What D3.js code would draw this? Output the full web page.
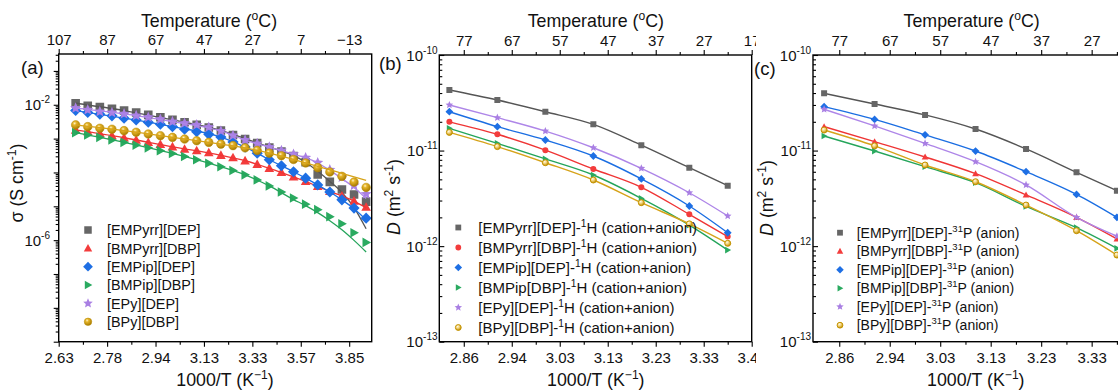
<!DOCTYPE html>
<html><head><meta charset="utf-8">
<script src="https://cdn.jsdelivr.net/npm/d3@7"></script>
<style>body{margin:0;background:#fff;} svg{display:block;font-family:"Liberation Sans",Arial,sans-serif;}</style>
</head><body>
<script>
// ---------------- Panel (a): ionic conductivity ----------------
const tempA = [100,95,90,85,80,75,70,65,60,55,50,45,40,35,30,25,20,15,10,5,0,-5,-10,-15,-20];
const sigma_EMPyrr_DEP = [1.11e-2,9.34e-3,8.54e-3,7.60e-3,6.76e-3,5.90e-3,5.04e-3,4.30e-3,3.57e-3,3.05e-3,2.54e-3,2.14e-3,1.74e-3,1.28e-3,9.7e-4,7.38e-4,5.42e-4,4.12e-4,3.03e-4,2.01e-4,8.8e-5,5.27e-5,3.15e-5,2.23e-5,1.38e-5];
const sigma_BMPyrr_DBP = [1.80e-3,1.60e-3,1.44e-3,1.22e-3,1.06e-3,9.08e-4,7.75e-4,6.75e-4,5.73e-4,4.90e-4,4.41e-4,3.84e-4,3.22e-4,2.73e-4,2.22e-4,1.75e-4,1.33e-4,1.01e-4,7.41e-5,5.45e-5,3.86e-5,2.75e-5,2.02e-5,1.43e-5,9.48e-6];
const sigma_EMPip_DEP = [6.76e-3,5.90e-3,5.28e-3,4.70e-3,4.02e-3,3.57e-3,3.05e-3,2.66e-3,2.26e-3,1.89e-3,1.60e-3,1.34e-3,1.11e-3,7.91e-4,5.61e-4,3.72e-4,2.38e-4,1.58e-4,1.05e-4,6.79e-5,4.29e-5,2.65e-5,1.55e-5,8.85e-6,4.46e-6];
const sigma_BMPip_DBP = [1.50e-3,1.28e-3,1.09e-3,9.08e-4,7.75e-4,6.44e-4,5.35e-4,4.41e-4,3.64e-4,2.96e-4,2.38e-4,1.87e-4,1.47e-4,1.14e-4,8.51e-5,6.04e-5,4.00e-5,2.65e-5,1.76e-5,1.16e-5,7.98e-6,4.94e-6,3.05e-6,1.65e-6,8.59e-7];
const sigma_EPy_DEP = [7.97e-3,7.10e-3,6.32e-3,5.90e-3,5.40e-3,4.80e-3,4.30e-3,3.75e-3,3.18e-3,2.85e-3,2.54e-3,2.17e-3,1.68e-3,1.24e-3,9.08e-4,7.13e-4,5.61e-4,4.41e-4,3.47e-4,2.73e-4,1.94e-4,1.20e-4,7.17e-5,4.14e-5,2.31e-5];
const sigma_BPy_DBP = [2.54e-3,2.26e-3,2.02e-3,1.89e-3,1.72e-3,1.54e-3,1.37e-3,1.22e-3,1.09e-3,9.70e-4,8.65e-4,7.75e-4,6.89e-4,6.22e-4,5.35e-4,4.48e-4,3.72e-4,3.13e-4,2.42e-4,1.91e-4,1.39e-4,1.03e-4,7.67e-5,5.20e-5,3.61e-5];
// fitted curves
const fitTempA = [100,80,60,40,30,20,10,5,0,-5,-10,-15,-20];
const fit_EMPyrr_DEP = [1.11e-2,6.76e-3,3.57e-3,1.74e-3,1.00e-3,5.61e-4,3.13e-4,2.01e-4,1.08e-4,5.45e-5,2.56e-5,9.2e-6,2.17e-6];
const fit_BMPyrr_DBP = [1.80e-3,1.06e-3,5.73e-4,3.22e-4,2.22e-4,1.33e-4,7.41e-5,5.45e-5,3.86e-5,2.75e-5,2.02e-5,1.43e-5,9.0e-6];
const fit_EMPip_DEP = [6.76e-3,4.02e-3,2.26e-3,1.11e-3,5.61e-4,2.38e-4,1.05e-4,6.79e-5,4.29e-5,2.65e-5,1.55e-5,8.5e-6,4.0e-6];
const fit_BMPip_DBP = [1.50e-3,7.75e-4,3.64e-4,1.47e-4,8.51e-5,4.00e-5,1.58e-5,1.05e-5,6.5e-6,3.76e-6,2.03e-6,9.86e-7,4.49e-7];
const fit_EPy_DEP = [7.97e-3,5.40e-3,3.18e-3,1.68e-3,9.08e-4,5.61e-4,3.47e-4,2.73e-4,1.90e-4,1.15e-4,6.6e-5,3.6e-5,1.70e-5];
const fit_BPy_DBP = [2.54e-3,1.72e-3,1.09e-3,6.89e-4,5.35e-4,3.72e-4,2.42e-4,1.91e-4,1.52e-4,1.20e-4,9.43e-5,7.41e-5,5.84e-5];
const topTicksA = [107,87,67,47,27,7,-13];
const bottomLabelsA = ["2.63","2.78","2.94","3.13","3.33","3.57","3.85"];
const namesA = ["[EMPyrr][DEP]","[BMPyrr][DBP]","[EMPip][DEP]","[BMPip][DBP]","[EPy][DEP]","[BPy][DBP]"];

// ---------------- Panels (b), (c): diffusion coefficients ----------------
const tempBC = [80,70,60,50,40,30,22];
const dH_EMPyrr_DEP = [4.31e-11,3.38e-11,2.55e-11,1.88e-11,1.14e-11,6.62e-12,4.29e-12];
const dH_BMPyrr_DBP = [2.00e-11,1.48e-11,1.01e-11,6.41e-12,4.13e-12,2.15e-12,1.26e-12];
const dH_EMPip_DEP  = [2.55e-11,1.78e-11,1.29e-11,8.77e-12,5.05e-12,2.63e-12,1.38e-12];
const dH_BMPip_DBP  = [1.71e-11,1.19e-11,8.17e-12,5.55e-12,3.16e-12,1.66e-12,9.1e-13];
const dH_EPy_DEP    = [3.00e-11,2.21e-11,1.60e-11,1.07e-11,6.52e-12,3.62e-12,2.07e-12];
const dH_BPy_DBP    = [1.55e-11,1.10e-11,7.46e-12,4.92e-12,2.85e-12,1.71e-12,1.07e-12];
const dP_EMPyrr_DEP = [3.97e-11,3.07e-11,2.36e-11,1.68e-11,1.04e-11,5.92e-12,3.80e-12];
const dP_BMPyrr_DBP = [1.78e-11,1.24e-11,8.57e-12,5.73e-12,3.43e-12,2.00e-12,1.19e-12];
const dP_EMPip_DEP  = [2.88e-11,2.12e-11,1.46e-11,9.89e-12,6.01e-12,3.48e-12,2.00e-12];
const dP_BMPip_DBP  = [1.42e-11,9.89e-12,6.78e-12,4.61e-12,2.60e-12,1.56e-12,9.48e-13];
const dP_EPy_DEP    = [2.70e-11,1.81e-11,1.19e-11,7.65e-12,4.37e-12,2.00e-12,1.27e-12];
const dP_BPy_DBP    = [1.64e-11,1.12e-11,7.06e-12,4.72e-12,2.69e-12,1.45e-12,8.07e-13];
const topTicksBC = [77,67,57,47,37,27,17];
const bottomLabelsBC = ["2.86","2.94","3.03","3.13","3.23","3.33","3.45"];
const namesB = ["[EMPyrr][DEP]-","[BMPyrr][DBP]-","[EMPip][DEP]-","[BMPip[DBP]-","[EPy][DEP]-","[BPy][DBP]-"];
const namesC = ["[EMPyrr][DEP]-","[BMPyrr][DBP]-","[EMPip][DEP]-","[BMPip][DBP]-","[EPy][DEP]-","[BPy][DBP]-"];

// ---------------- drawing ----------------
const W = 1118, H = 390;
const FONT = '"Liberation Sans",Arial,sans-serif';
const svg = d3.select("body").append("svg").attr("width", W).attr("height", H);
svg.append("rect").attr("width", W).attr("height", H).attr("fill", "#fff");
const defs = svg.append("defs");
function ballGrad(id, stops){
  const g = defs.append("radialGradient").attr("id", id).attr("cx","38%").attr("cy","32%").attr("r","68%");
  stops.forEach(s => g.append("stop").attr("offset", s[0]).attr("stop-color", s[1]));
}
ballGrad("ballBig", [["0%","#fff4c8"],["30%","#e6b52a"],["100%","#a77b00"]]);
ballGrad("ballSmall", [["0%","#fffbe8"],["45%","#f2d27a"],["100%","#c08e00"]]);

const COL = {gray:"#666666", red:"#f33c3c", blue:"#1e6fe4", green:"#2aaa60", purple:"#a97fe3", gold:"#d5a20d"};
const LCOL = {gray:"#555555", red:"#ef3535", blue:"#1b6ee2", green:"#25a55b", purple:"#ae86e8", gold:"#d6a31a"};

function markerPath(type, s){
  const h = s/2;
  switch(type){
    case "square": return `M${-h},${-h}H${h}V${h}H${-h}Z`;
    case "triUp": return `M0,${-h*1.15}L${h*1.12},${h*0.85}L${-h*1.12},${h*0.85}Z`;
    case "triRight": return `M${h*1.15},0L${-h*0.85},${h*1.12}L${-h*0.85},${-h*1.12}Z`;
    case "diamond": { const r = h*1.3; return `M0,${-r}L${r},0L0,${r}L${-r},0Z`; }
    case "star": { let p = ""; const R = h*1.35, r = R*0.45;
      for (let i = 0; i < 10; i++){ const a = -Math.PI/2 + i*Math.PI/5, rr = i%2 ? r : R;
        p += (i ? "L" : "M") + (rr*Math.cos(a)).toFixed(2) + "," + (rr*Math.sin(a)).toFixed(2); }
      return p + "Z"; }
    default: return d3.symbol(d3.symbolCircle, Math.PI*h*h)();
  }
}
function drawMarker(g, type, col, s, cx, cy, big){
  const p = g.append("path").attr("d", markerPath(type, s)).attr("transform", `translate(${cx},${cy})`);
  if (type === "ball"){
    p.attr("fill", big ? "url(#ballBig)" : "url(#ballSmall)").attr("stroke", big ? "#b88a00" : "#c49300").attr("stroke-width", big ? 0.5 : 1);
  } else p.attr("fill", col);
}
function rich(sel, parts, size){
  let shifted = 0;
  parts.forEach(pt => {
    const ts = sel.append("tspan").text(pt.t);
    if (pt.sup){ ts.attr("dy", -size*0.42).attr("font-size", size*0.68); shifted = size*0.42; }
    else if (shifted){ ts.attr("dy", shifted); shifted = 0; }
    if (pt.it) ts.attr("font-style", "italic");
  });
}
function styleAxis(ax){
  ax.select(".domain").remove();
  ax.selectAll(".tick line").attr("stroke", "#000").attr("stroke-width", 1.1);
  ax.selectAll(".tick text").attr("font-size", 15).attr("fill", "#111").attr("font-family", FONT);
}

function drawPanel(cfg){
  const g = svg.append("g");
  const {x0, x1, y0, y1} = cfg;
  const x = d3.scaleLinear().domain(cfg.xDomain).range([x0, x1]);
  const y = d3.scaleLog().domain(cfg.yDomain).range([y1, y0]);
  const major = cfg.topTicks.filter(v => { const p = x(v); return p >= x0 - 0.5 && p <= x1 + 0.5; });
  const minor = cfg.topTicks.map(t => t - cfg.minorStep).concat([cfg.topTicks[0] + cfg.minorStep]).filter(v => { const p = x(v); return p > x0 + 1.5 && p < x1 - 1.5; });

  // top axis
  styleAxis(g.append("g").attr("transform", `translate(0,${y0})`)
    .call(d3.axisTop(x).tickValues(major).tickSize(5).tickPadding(4).tickFormat(d3.format("d"))));
  styleAxis(g.append("g").attr("transform", `translate(0,${y0})`).call(d3.axisTop(x).tickValues(minor).tickSize(3).tickFormat("")));
  // bottom axis
  styleAxis(g.append("g").attr("transform", `translate(0,${y1})`)
    .call(d3.axisBottom(x).tickValues(major).tickSize(5).tickPadding(6).tickFormat(d => cfg.bottomLabels[cfg.topTicks.indexOf(d)])));
  styleAxis(g.append("g").attr("transform", `translate(0,${y1})`).call(d3.axisBottom(x).tickValues(minor).tickSize(3).tickFormat("")));
  // left axis (log)
  const decs = d3.range(cfg.decRange[0], cfg.decRange[1] + 1).map(e => Math.pow(10, e));
  const ymin = [];
  d3.range(cfg.decRange[0], cfg.decRange[1] + 1).forEach(e => { for (let k = 2; k <= 9; k++){ const v = k*Math.pow(10, e); if (v < cfg.yDomain[1]) ymin.push(v); } });
  const sgn = cfg.yInward ? -1 : 1;
  styleAxis(g.append("g").attr("transform", `translate(${x0},0)`).call(d3.axisLeft(y).tickValues(decs).tickSize(5*sgn).tickFormat("")));
  styleAxis(g.append("g").attr("transform", `translate(${x0},0)`).call(d3.axisLeft(y).tickValues(ymin).tickSize(3*sgn).tickFormat("")));
  cfg.yLabeled.forEach(e => {
    const t = g.append("text").attr("x", cfg.yLabelRight).attr("y", y(Math.pow(10, e)) + 5.5)
      .attr("text-anchor", "end").attr("font-size", 15).attr("fill", "#111");
    t.append("tspan").text("10");
    t.append("tspan").attr("dy", -7).attr("font-size", 10).text(String(e));
  });

  // data
  const clipId = "clip" + cfg.id;
  defs.append("clipPath").attr("id", clipId).append("rect").attr("x", x0).attr("y", y0).attr("width", x1 - x0).attr("height", y1 - y0);
  const dg = g.append("g").attr("clip-path", `url(#${clipId})`);
  const line = d3.line().x(d => x(d[0])).y(d => y(d[1])).curve(d3.curveMonotoneX);
  cfg.series.forEach(s => {
    const pts = s.temps.map((t, i) => [t, s.vals[i]]);
    const fitPts = s.fitTemps ? s.fitTemps.map((t, i) => [t, s.fit[i]]) : pts;
    if (!cfg.lineOnTop) dg.append("path").attr("d", line(fitPts)).attr("fill", "none").attr("stroke", LCOL[s.c]).attr("stroke-width", cfg.lw);
    pts.forEach(p => drawMarker(dg, s.shape, COL[s.c], cfg.ms, x(p[0]), y(p[1]), cfg.big));
    if (cfg.lineOnTop) dg.append("path").attr("d", line(fitPts)).attr("fill", "none").attr("stroke", LCOL[s.c]).attr("stroke-width", cfg.lw);
  });

  // frame
  g.append("rect").attr("x", x0).attr("y", y0).attr("width", x1 - x0).attr("height", y1 - y0)
    .attr("fill", "none").attr("stroke", "#000").attr("stroke-width", 1.4);

  // legend
  const L = cfg.legend;
  cfg.series.forEach((s, i) => {
    const cy = L.y + i*L.dy;
    drawMarker(g, s.shape, COL[s.c], L.ms, L.mx, cy, cfg.big);
    const t = g.append("text").attr("x", L.tx).attr("y", cy + L.fs*0.36).attr("font-size", L.fs).attr("fill", "#111");
    rich(t, s.label, L.fs);
  });

  // titles
  const TS = 17.8;
  const tt = g.append("text").attr("x", cfg.topTitleX).attr("y", 27).attr("text-anchor", "middle").attr("font-size", TS).attr("fill", "#111");
  rich(tt, [{t:"Temperature ("},{t:"o", sup:true},{t:"C)"}], TS);
  const bt = g.append("text").attr("x", cfg.botTitleX).attr("y", 386).attr("text-anchor", "middle").attr("font-size", TS).attr("fill", "#111");
  rich(bt, [{t:"1000/T (K"},{t:"\u22121", sup:true},{t:")"}], TS);
  const yt = g.append("text").attr("transform", `translate(${cfg.yTitle[0]},${cfg.yTitle[1]}) rotate(-90)`)
    .attr("text-anchor", "middle").attr("font-size", TS).attr("fill", "#111");
  rich(yt, cfg.yTitleParts, TS);
  g.append("text").attr("x", cfg.tag[0]).attr("y", cfg.tag[1]).attr("font-size", 18.5).attr("fill", "#111").text(cfg.tagText);
}

const keys = ["gray","red","blue","green","purple","gold"];
const shapesA = ["square","triUp","diamond","triRight","star","ball"];
const shapesB = ["square","circle","diamond","triRight","star","ball"];
const valsA = [sigma_EMPyrr_DEP, sigma_BMPyrr_DBP, sigma_EMPip_DEP, sigma_BMPip_DBP, sigma_EPy_DEP, sigma_BPy_DBP];
const fitsA = [fit_EMPyrr_DEP, fit_BMPyrr_DBP, fit_EMPip_DEP, fit_BMPip_DBP, fit_EPy_DEP, fit_BPy_DBP];
const valsB = [dH_EMPyrr_DEP, dH_BMPyrr_DBP, dH_EMPip_DEP, dH_BMPip_DBP, dH_EPy_DEP, dH_BPy_DBP];
const valsC = [dP_EMPyrr_DEP, dP_BMPyrr_DBP, dP_EMPip_DEP, dP_BMPip_DBP, dP_EPy_DEP, dP_BPy_DBP];

drawPanel({
  id:"a", x0:58.7, x1:371.7, y0:54, y1:341.7, xDomain:[107,-22.3], yDomain:[1e-9, Math.pow(10,-0.5)],
  topTicks: topTicksA, bottomLabels: bottomLabelsA, minorStep: 10,
  decRange:[-9,-1], yLabeled:[-2,-6], yInward:false, yLabelRight:50,
  ms:8.6, lw:1.3, big:true, lineOnTop:true,
  series: keys.map((c, i) => ({c, shape:shapesA[i], temps:tempA, vals:valsA[i], fitTemps:fitTempA, fit:fitsA[i], label:[{t:namesA[i]}]})),
  legend:{mx:88, tx:107, y:230, dy:18.35, ms:7.5, fs:14.4},
  topTitleX:209, botTitleX:225, yTitle:[23,183],
  yTitleParts:[{t:"\u03C3 (S cm"},{t:"-1", sup:true},{t:")"}],
  tag:[21,74], tagText:"(a)"
});

drawPanel({
  id:"b", x0:439.3, x1:751.7, y0:55, y1:341.7, xDomain:[82.1,17], yDomain:[1e-13,1e-10],
  topTicks: topTicksBC, bottomLabels: bottomLabelsBC, minorStep: 5,
  decRange:[-13,-10], yLabeled:[-10,-11,-12,-13], yInward:true, yLabelRight:437.5,
  ms:6, lw:1.4, big:false, lineOnTop:false,
  series: keys.map((c, i) => ({c, shape:shapesB[i], temps:tempBC, vals:valsB[i],
    label:[{t:namesB[i]},{t:"1", sup:true},{t:"H (cation+anion)"}]})),
  legend:{mx:458.3, tx:478.3, y:227.5, dy:20, ms:5.8, fs:15},
  topTitleX:595.8, botTitleX:595.8, yTitle:[400,197],
  yTitleParts:[{t:"D", it:true},{t:" (m"},{t:"2", sup:true},{t:" s"},{t:"-1", sup:true},{t:")"}],
  tag:[379,70], tagText:"(b)"
});

// panel (c) sits on its own white background, covering the overflow of (b)
svg.append("rect").attr("x", 756).attr("y", 0).attr("width", W - 756).attr("height", H).attr("fill", "#fff");

drawPanel({
  id:"c", x0:813, x1:1127, y0:55, y1:341.7, xDomain:[82.2,20], yDomain:[1e-13,1e-10],
  topTicks: topTicksBC, bottomLabels: bottomLabelsBC, minorStep: 5,
  decRange:[-13,-10], yLabeled:[-10,-11,-12,-13], yInward:true, yLabelRight:811,
  ms:6, lw:1.4, big:false, lineOnTop:false,
  series: keys.map((c, i) => ({c, shape:shapesA[i], temps:tempBC, vals:valsC[i],
    label:[{t:namesC[i]},{t:"31", sup:true},{t:"P (anion)"}]})),
  legend:{mx:840, tx:856.7, y:232.7, dy:18.5, ms:5.8, fs:14},
  topTitleX:971.7, botTitleX:975.8, yTitle:[773,198],
  yTitleParts:[{t:"D", it:true},{t:" (m"},{t:"2", sup:true},{t:" s"},{t:"-1", sup:true},{t:")"}],
  tag:[754,75], tagText:"(c)"
});
</script>
</body></html>
